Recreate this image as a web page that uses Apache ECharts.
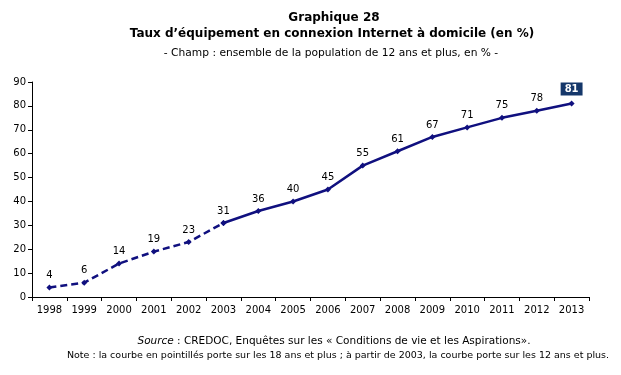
<!DOCTYPE html>
<html><head><meta charset="utf-8">
<script src="https://cdn.jsdelivr.net/npm/echarts@6/dist/echarts.min.js"></script>
<style>html,body{margin:0;padding:0;background:#fff}#c{width:621px;height:375px}</style>
</head><body><div id="c"></div>
<script>
var years = ['1998','1999','2000','2001','2002','2003','2004','2005','2006','2007','2008','2009','2010','2011','2012','2013'];
var values = [4,6,14,19,23,31,36,40,45,55,61,67,71,75,78,81];
var yTicks = [0,10,20,30,40,50,60,70,80,90];
var dashedEndIndex = 5; // 2003

var dashedData = values.map(function(v,i){ return i <= dashedEndIndex ? v : null; });
var solidData = values.map(function(v,i){
  if (i < dashedEndIndex) return null;
  if (i === values.length - 1) {
    return {value: v, label: {backgroundColor:'#15376a', color:'#fff', fontWeight:'bold', padding:[2,4,1,4], distance:5}};
  }
  return v;
});

var font = 'DejaVu Sans, Verdana, sans-serif';
var lineColor = '#10107f';
var chart = echarts.init(document.getElementById('c'));
chart.setOption({
  animation:false,
  textStyle:{fontFamily:font},
  title:[
    {text:'Graphique 28', left:329, top:7, textAlign:'center', textStyle:{fontSize:12, fontWeight:'bold', color:'#000', fontFamily:font}},
    {text:'Taux d\u2019\u00e9quipement en connexion Internet \u00e0 domicile (en %)', left:327, top:23, textAlign:'center', textStyle:{fontSize:12, fontWeight:'bold', color:'#000', fontFamily:font}},
    {text:'- Champ : ensemble de la population de 12 ans et plus, en % -', left:326, top:43, textAlign:'center', textStyle:{fontSize:10.7, fontWeight:'normal', color:'#000', fontFamily:font}},
    {text:'{i|Source} : CREDOC, Enqu\u00eates sur les \u00ab Conditions de vie et les Aspirations\u00bb.', left:329, top:331, textAlign:'center', textStyle:{fontSize:10.5, fontWeight:'normal', color:'#000', fontFamily:font, rich:{i:{fontStyle:'italic', fontSize:10.5, fontFamily:font}}}},
    {text:'Note : la courbe en pointill\u00e9s porte sur les 18 ans et plus ; \u00e0 partir de 2003, la courbe porte sur les 12 ans et plus.', left:333, top:346, textAlign:'center', textStyle:{fontSize:9.5, fontWeight:'normal', color:'#000', fontFamily:font}}
  ],
  grid:{left:32, right:32, top:82, bottom:78, containLabel:false},
  xAxis:{type:'category', data:years, boundaryGap:true,
    axisLine:{lineStyle:{color:'#000', width:1}},
    axisTick:{show:true, alignWithLabel:false, length:4, lineStyle:{color:'#000'}},
    axisLabel:{fontSize:10, color:'#000', margin:8, fontFamily:font}},
  yAxis:{type:'value', min:yTicks[0], max:yTicks[yTicks.length-1], interval:10,
    axisLine:{show:true, lineStyle:{color:'#000', width:1}},
    axisTick:{show:true, length:4, lineStyle:{color:'#000'}},
    splitLine:{show:false},
    axisLabel:{fontSize:10, color:'#000', margin:6, fontFamily:font}},
  series:[
    {type:'line', data:dashedData, connectNulls:false, symbol:'diamond', symbolSize:6,
      lineStyle:{color:lineColor, width:2.5, type:[7,4]}, itemStyle:{color:lineColor},
      label:{show:true, position:'top', distance:4, fontSize:10, color:'#000', fontFamily:font}},
    {type:'line', data:solidData, connectNulls:false, symbol:'diamond', symbolSize:6,
      lineStyle:{color:lineColor, width:2.5}, itemStyle:{color:lineColor},
      label:{show:true, position:'top', distance:4, fontSize:10, color:'#000', fontFamily:font,
        formatter:function(p){ return p.dataIndex === dashedEndIndex ? '' : p.value; }}}
  ]
});
</script></body></html>
